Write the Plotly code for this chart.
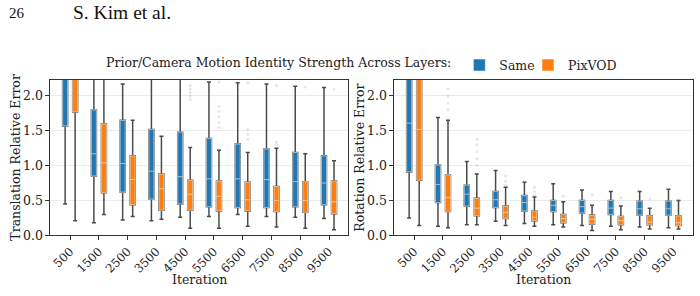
import plotly.graph_objects as go

iterations = ["500", "1500", "2500", "3500", "4500", "5500", "6500", "7500", "8500", "9500"]

# Translation relative error - "Same"
tr_same_lo = [0.45, 0.18, 0.22, 0.21, 0.26, 0.27, 0.30, 0.27, 0.26, 0.24]
tr_same_q1 = [1.57, 0.85, 0.62, 0.52, 0.45, 0.41, 0.40, 0.40, 0.41, 0.44]
tr_same_med = [2.45, 1.17, 1.03, 0.92, 0.84, 0.81, 0.81, 0.80, 0.77, 0.75]
tr_same_q3 = [3.20, 1.80, 1.65, 1.52, 1.48, 1.39, 1.31, 1.24, 1.19, 1.14]
tr_same_hi = [5.00, 2.90, 2.17, 2.40, 2.50, 2.20, 2.19, 2.17, 2.14, 2.12]

# Translation relative error - "PixVOD"
tr_pix_lo = [0.21, 0.30, 0.27, 0.23, 0.10, 0.10, 0.13, 0.12, 0.10, 0.08]
tr_pix_q1 = [1.77, 0.61, 0.44, 0.36, 0.36, 0.35, 0.35, 0.34, 0.33, 0.31]
tr_pix_med = [2.40, 1.04, 0.80, 0.67, 0.59, 0.56, 0.51, 0.50, 0.50, 0.48]
tr_pix_q3 = [3.00, 1.60, 1.14, 0.88, 0.79, 0.78, 0.76, 0.70, 0.77, 0.78]
tr_pix_hi = [4.80, 2.50, 1.65, 1.42, 1.26, 1.22, 1.19, 1.25, 1.17, 1.07]

# Rotation relative error - "Same"
ro_same_lo = [0.25, 0.13, 0.15, 0.20, 0.17, 0.15, 0.14, 0.13, 0.12, 0.11]
ro_same_q1 = [0.91, 0.47, 0.42, 0.40, 0.35, 0.34, 0.32, 0.30, 0.29, 0.29]
ro_same_med = [1.61, 0.73, 0.59, 0.51, 0.47, 0.43, 0.41, 0.39, 0.38, 0.38]
ro_same_q3 = [2.60, 1.01, 0.72, 0.63, 0.57, 0.50, 0.50, 0.50, 0.49, 0.49]
ro_same_hi = [4.00, 1.69, 1.06, 0.93, 0.76, 0.74, 0.65, 0.63, 0.63, 0.66]

# Rotation relative error - "PixVOD"
ro_pix_lo = [0.14, 0.11, 0.15, 0.14, 0.13, 0.12, 0.07, 0.08, 0.09, 0.09]
ro_pix_q1 = [0.79, 0.34, 0.28, 0.24, 0.21, 0.18, 0.16, 0.15, 0.15, 0.14]
ro_pix_med = [1.52, 0.54, 0.39, 0.33, 0.26, 0.24, 0.23, 0.21, 0.19, 0.18]
ro_pix_q3 = [2.50, 0.87, 0.53, 0.42, 0.35, 0.30, 0.29, 0.27, 0.28, 0.28]
ro_pix_hi = [3.80, 1.65, 0.88, 0.69, 0.55, 0.48, 0.43, 0.42, 0.39, 0.50]

# Outlier points (PixVOD)
tr_pix_out_x = ["4500", "4500", "4500", "4500", "4500", "5500", "5500", "5500", "5500", "5500", "5500",
                "6500", "6500", "6500", "6500", "7500", "7500", "7500", "8500", "9500"]
tr_pix_out_y = [1.95, 2.00, 2.05, 2.10, 2.15, 1.55, 1.62, 1.70, 1.78, 1.85, 2.20,
                1.38, 1.45, 1.52, 2.19, 1.30, 1.34, 2.15, 2.13, 2.10]
ro_pix_out_x = ["1500", "1500", "1500", "1500", "2500", "2500", "2500", "2500", "2500",
                "3500", "3500", "3500", "4500", "4500", "4500", "5500", "6500", "7500", "8500", "9500"]
ro_pix_out_y = [1.80, 1.90, 2.00, 2.10, 1.00, 1.10, 1.20, 1.30, 1.38,
                0.72, 0.78, 0.85, 0.58, 0.63, 0.69, 0.56, 0.58, 0.54, 0.52, 0.51]

BLUE = "#1f77b4"
ORANGE = "#ff7f0e"
FONT = "DejaVu Serif"
FS = 12.5

fig = go.Figure()


def add_series(xa, ya, lo, q1, med, q3, hi, color, name, group, legend, legend_id):
    # whiskers (drawn first)
    fig.add_trace(go.Box(
        x=iterations, lowerfence=lo, q1=q1, median=med, q3=q3, upperfence=hi,
        xaxis=xa, yaxis=ya, offsetgroup=group, name=name,
        fillcolor=color, line=dict(color="#4a4a4a", width=1.5),
        whiskerwidth=0.8, boxpoints=False, showlegend=False, hoverinfo="skip",
    ))
    # coloured box with light edge and white median
    fig.add_trace(go.Box(
        x=iterations, lowerfence=q1, q1=q1, median=med, q3=q3, upperfence=q3,
        xaxis=xa, yaxis=ya, offsetgroup=group, name=name, legendgroup=name,
        fillcolor=color, line=dict(color="rgba(255,255,255,0.55)", width=1),
        whiskerwidth=0, boxpoints=False, showlegend=legend, legend=legend_id,
    ))


def add_outliers(xa, ya, ox, oy, group):
    fig.add_trace(go.Box(
        x=ox, y=oy, xaxis=xa, yaxis=ya, offsetgroup=group,
        boxpoints="all", jitter=0, pointpos=0,
        fillcolor="rgba(0,0,0,0)", line=dict(color="rgba(0,0,0,0)", width=0),
        marker=dict(color="rgba(140,140,140,0.22)", size=3),
        showlegend=False, hoverinfo="skip",
    ))


add_series("x", "y", tr_same_lo, tr_same_q1, tr_same_med, tr_same_q3, tr_same_hi, BLUE, "Same", "same", True, "legend")
add_series("x", "y", tr_pix_lo, tr_pix_q1, tr_pix_med, tr_pix_q3, tr_pix_hi, ORANGE, "PixVOD", "pix", True, "legend2")
add_series("x2", "y2", ro_same_lo, ro_same_q1, ro_same_med, ro_same_q3, ro_same_hi, BLUE, "Same", "same", False, "legend")
add_series("x2", "y2", ro_pix_lo, ro_pix_q1, ro_pix_med, ro_pix_q3, ro_pix_hi, ORANGE, "PixVOD", "pix", False, "legend2")
add_outliers("x", "y", tr_pix_out_x, tr_pix_out_y, "pix")
add_outliers("x2", "y2", ro_pix_out_x, ro_pix_out_y, "pix")

xcommon = dict(
    type="category", categoryorder="array", categoryarray=iterations,
    range=[-0.7, 9.66], tickangle=-45, ticks="outside", ticklen=3.5, tickcolor="#333",
    showgrid=False, showline=True, mirror=True, linecolor="#333", linewidth=1.2,
    tickfont=dict(family=FONT, size=11.8, color="#222"), zeroline=False, fixedrange=True,
)
ycommon = dict(
    range=[0, 2.228], tickvals=[0, 0.5, 1.0, 1.5, 2.0], tickformat=".1f",
    ticks="outside", ticklen=3.5, tickcolor="#333",
    showgrid=True, gridcolor="#ebebeb", gridwidth=1,
    showline=True, mirror=True, linecolor="#333", linewidth=1.2,
    tickfont=dict(family=FONT, size=FS, color="#222"), zeroline=False,
)

y_dom = [(296 - 241) / 296, (296 - 82) / 296]
leg_y = (296 - 67) / 296

fig.update_layout(
    width=700, height=296, margin=dict(l=0, r=0, t=0, b=0),
    paper_bgcolor="white", plot_bgcolor="white",
    boxmode="group", boxgap=0.304, boxgroupgap=0.5,
    xaxis=dict(xcommon, domain=[50 / 700, 348 / 700], anchor="y"),
    yaxis=dict(ycommon, domain=y_dom, anchor="x"),
    xaxis2=dict(xcommon, domain=[394 / 700, 692.5 / 700], anchor="y2"),
    yaxis2=dict(ycommon, domain=y_dom, anchor="x2"),
    legend=dict(
        orientation="h", x=104 / 700, xanchor="left", y=leg_y, yanchor="middle",
        title=dict(text="Prior/Camera Motion Identity Strength Across Layers:", side="left",
                   font=dict(family=FONT, size=FS, color="#222")),
        font=dict(family=FONT, size=FS, color="#222"), bgcolor="rgba(0,0,0,0)",
    ),
    legend2=dict(
        orientation="h", x=528 / 700, xanchor="left", y=leg_y, yanchor="middle",
        font=dict(family=FONT, size=FS, color="#222"), bgcolor="rgba(0,0,0,0)",
    ),
    showlegend=True,
)

ann_font = dict(family=FONT, size=FS, color="#222")
fig.add_annotation(text="Translation Relative Error", x=16 / 700, y=(296 - 161.5) / 296,
                   xref="paper", yref="paper", xanchor="center", yanchor="middle",
                   textangle=-90, showarrow=False, font=ann_font)
fig.add_annotation(text="Rotation Relative Error", x=360 / 700, y=(296 - 161.5) / 296,
                   xref="paper", yref="paper", xanchor="center", yanchor="middle",
                   textangle=-90, showarrow=False, font=ann_font)
fig.add_annotation(text="Iteration", x=199 / 700, y=(296 - 286) / 296,
                   xref="paper", yref="paper", xanchor="center", yanchor="middle",
                   showarrow=False, font=ann_font)
fig.add_annotation(text="Iteration", x=543 / 700, y=(296 - 286) / 296,
                   xref="paper", yref="paper", xanchor="center", yanchor="middle",
                   showarrow=False, font=ann_font)
fig.add_annotation(text="26", x=7 / 700, y=(296 - 13) / 296, xref="paper", yref="paper",
                   xanchor="left", yanchor="middle", showarrow=False,
                   font=dict(family="Liberation Serif", size=15, color="#111"))
fig.add_annotation(text="S. Kim et al.", x=71 / 700, y=(296 - 13) / 296, xref="paper", yref="paper",
                   xanchor="left", yanchor="middle", showarrow=False,
                   font=dict(family="Liberation Serif", size=19.5, color="#111"))

fig.write_html("out.html")
